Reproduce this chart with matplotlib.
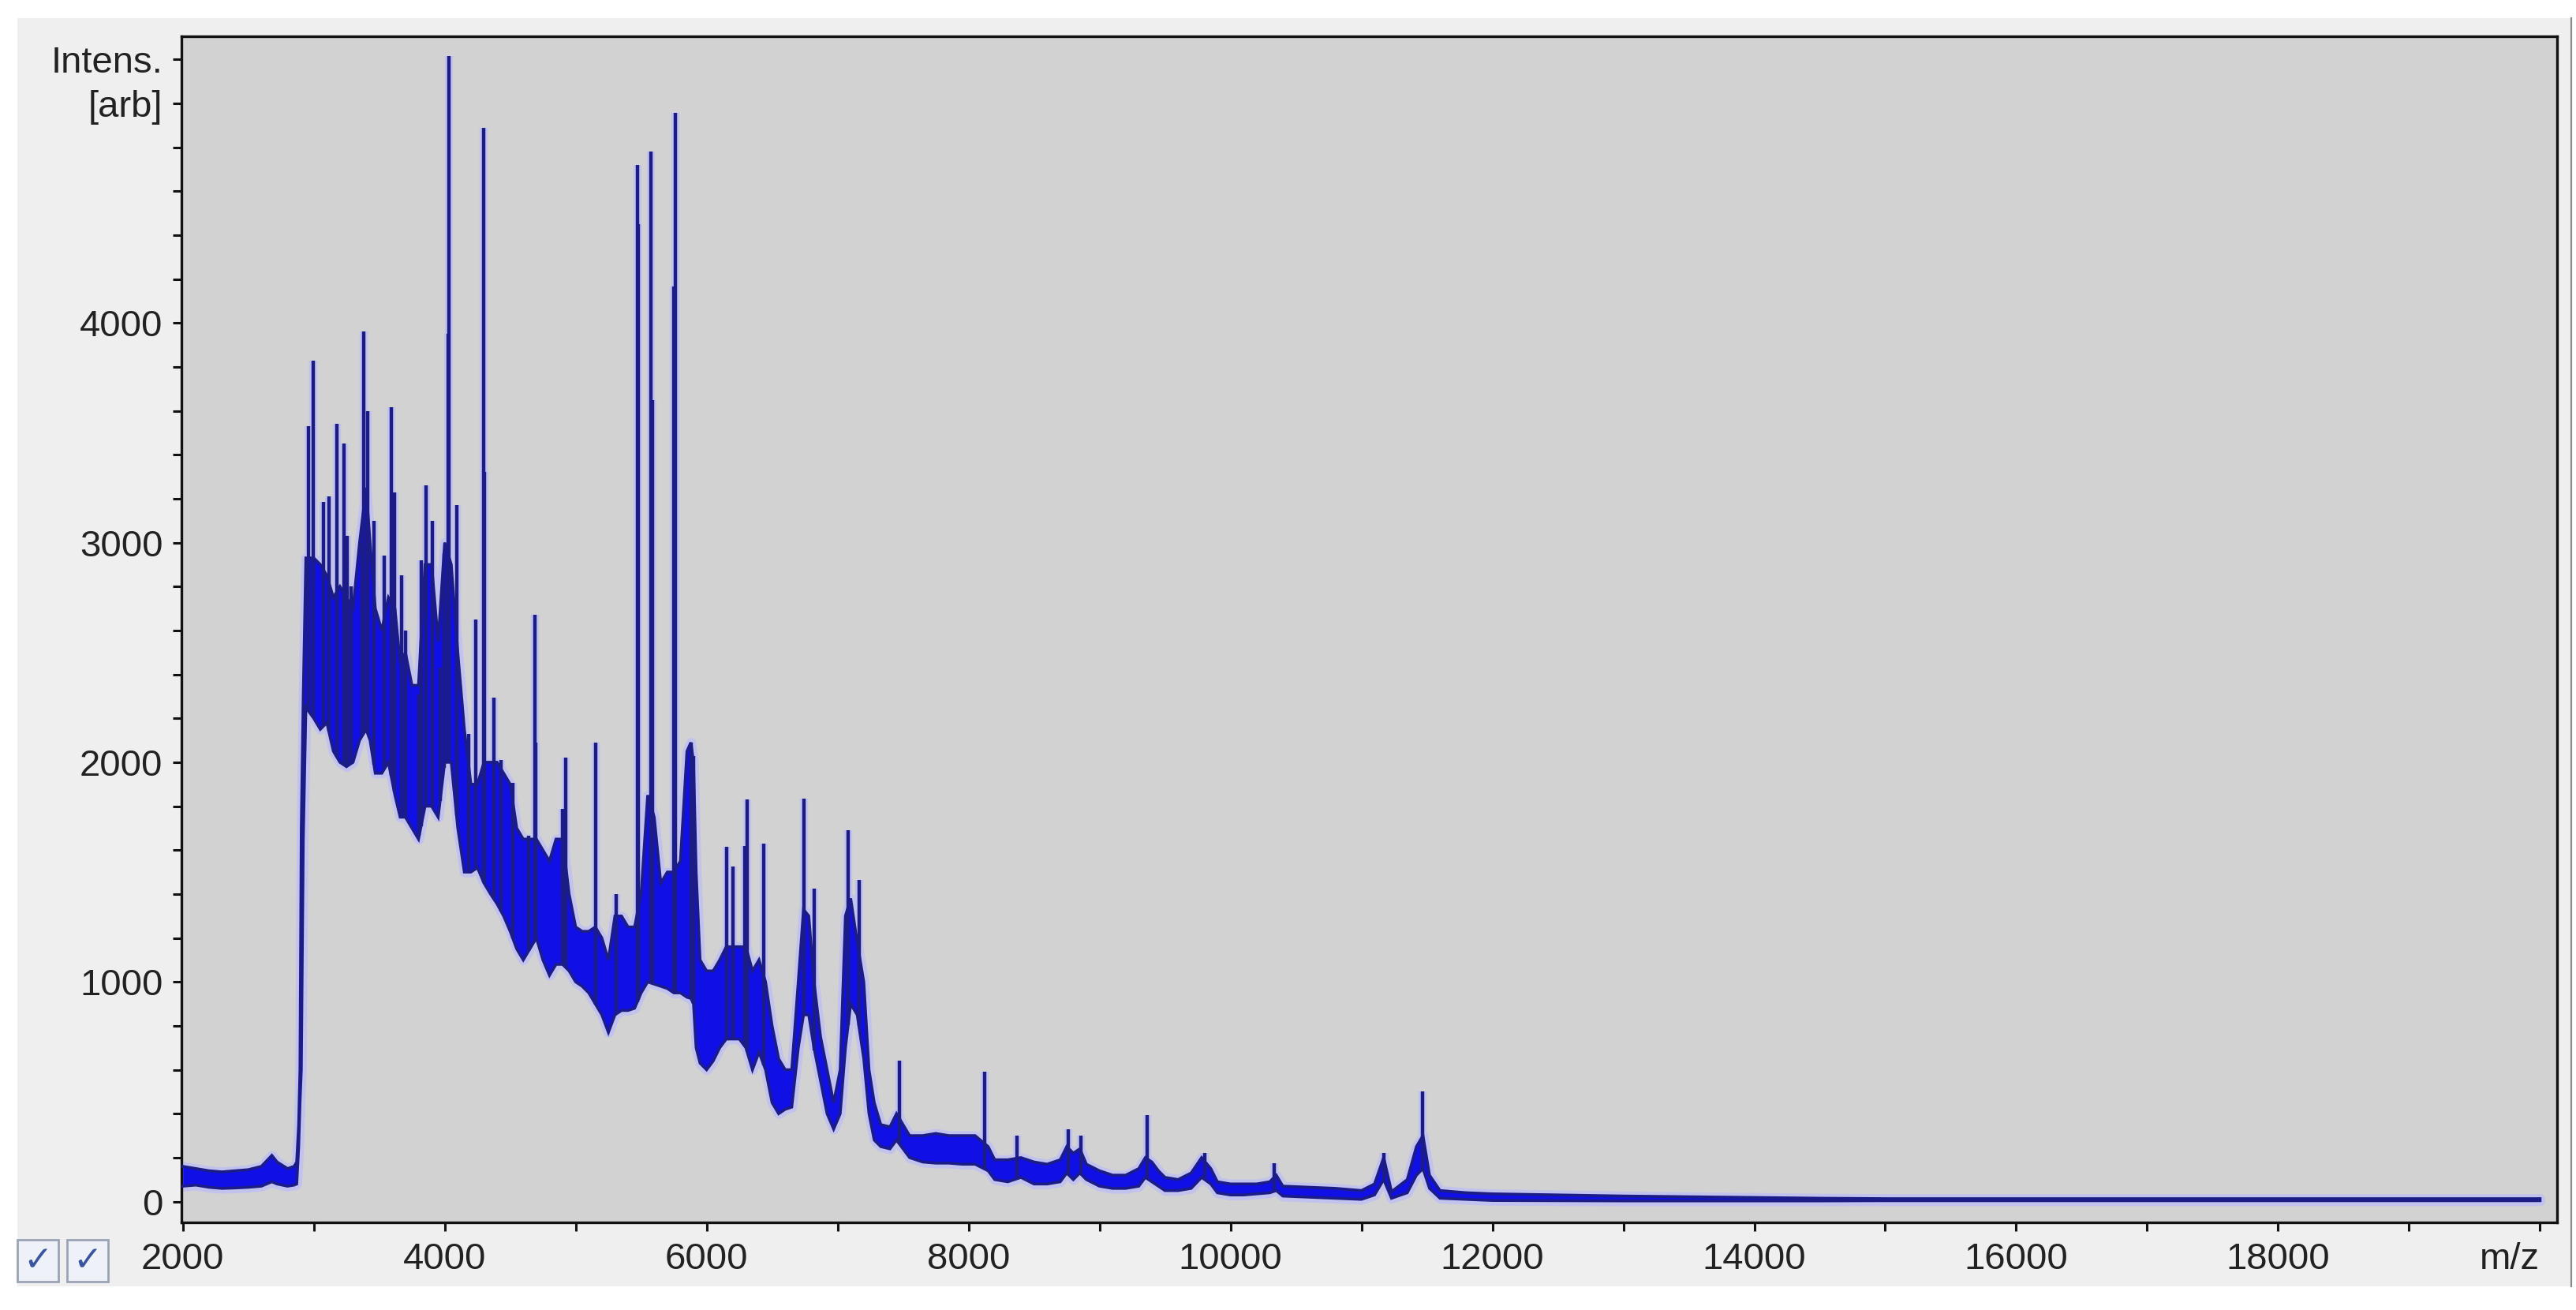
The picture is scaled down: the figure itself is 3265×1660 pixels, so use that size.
import numpy as np
import matplotlib
matplotlib.use("Agg")
import matplotlib.pyplot as plt
from matplotlib.patches import Rectangle
from matplotlib.lines import Line2D

# ---------------- data ----------------
# dense part of the trace: m/z, lower and upper envelope
band_mz = [2000, 2100, 2200, 2300, 2400, 2500, 2600, 2680, 2720, 2800, 2850, 2870,
           2885, 2895, 2905, 2920, 2940,
           3000, 3050, 3100, 3150, 3200, 3250, 3300, 3350, 3400, 3430, 3470, 3520,
           3570, 3620, 3660, 3700, 3750, 3800, 3850, 3900, 3950, 4000, 4050, 4100,
           4150, 4200, 4250, 4300, 4350, 4400, 4450, 4500, 4550, 4600, 4650, 4700,
           4750, 4800, 4850, 4900, 4950, 5000, 5050, 5100, 5150, 5200, 5250, 5300,
           5350, 5400, 5450, 5500, 5550, 5600, 5650, 5700, 5750, 5800, 5850, 5880,
           5900, 5920, 5950, 6000, 6050, 6100, 6150, 6200, 6250, 6300, 6350, 6400,
           6450, 6500, 6550, 6600, 6650, 6700, 6740, 6780, 6820, 6870, 6920, 6970,
           7020, 7060, 7100, 7150, 7200, 7240, 7280, 7330, 7400, 7450, 7500, 7550,
           7650, 7750, 7850, 7950, 8050, 8150, 8200, 8300, 8400, 8500, 8600, 8700,
           8750, 8800, 8850, 8900, 9000, 9100, 9200, 9300, 9350, 9400, 9450, 9500,
           9600, 9700, 9780, 9850, 9900, 10000, 10100, 10200, 10300, 10350, 10400,
           10600, 10800, 11000, 11100, 11170, 11230, 11350, 11420, 11470, 11520,
           11600, 11800, 12000, 13000, 14500, 15000, 20000]
band_lo = [70, 75, 65, 60, 62, 65, 70, 90, 80, 70, 75, 80,
           250, 450, 600, 1650, 2250,
           2200, 2150, 2180, 2050, 2000, 1980, 2000, 2100, 2150, 2100, 1950, 1950,
           2000, 1850, 1750, 1750, 1700, 1650, 1800, 1800, 1750, 2000, 2000, 1700,
           1500, 1500, 1520, 1450, 1400, 1355, 1300, 1230, 1150, 1100, 1150, 1200,
           1100, 1030, 1080, 1080, 1050, 1000, 980, 950, 900, 850, 770, 850,
           870, 870, 880, 950, 1000, 990, 980, 970, 950, 950, 930, 925,
           900, 700, 630, 600, 640, 700, 740, 740, 740, 700, 600, 680,
           600, 450, 400, 420, 430, 700, 850, 850, 700, 550, 400, 330,
           400, 700, 900, 850, 650, 400, 280, 250, 240, 280, 240, 200,
           180, 175, 175, 170, 170, 140, 100, 90, 110, 80, 80, 90,
           130, 100, 130, 100, 70, 60, 60, 70, 110, 90, 70, 50,
           50, 60, 110, 80, 40, 30, 30, 35, 40, 50, 25,
           20, 15, 10, 30, 100, 15, 40, 120, 150, 60,
           15, 10, 5, 3, 3, 4, 4]
band_hi = [160, 150, 140, 135, 140, 145, 160, 210, 180, 150, 160, 180,
           350, 600, 1700, 2300, 2930,
           2930, 2900, 2850, 2750, 2800, 2750, 2700, 3000, 3250, 3000, 2700, 2600,
           2750, 2700, 2450, 2500, 2350, 2350, 2900, 2900, 2550, 3000, 2900, 2500,
           2150, 1900, 1900, 2000, 2000, 2000, 1950, 1900, 1700, 1650, 1650, 1650,
           1600, 1550, 1650, 1650, 1400, 1250, 1230, 1230, 1250, 1200, 1100, 1300,
           1300, 1250, 1250, 1400, 1850, 1750, 1450, 1500, 1500, 1550, 2050, 2090,
           2000, 1500, 1100, 1050, 1050, 1100, 1160, 1160, 1160, 1160, 1050, 1100,
           1000, 800, 650, 600, 600, 1000, 1330, 1300, 1000, 750, 600, 450,
           600, 1300, 1380, 1180, 1000, 600, 450, 350, 340, 400, 350, 300,
           300, 310, 300, 300, 300, 250, 190, 190, 200, 180, 170, 190,
           250, 220, 240, 170, 140, 120, 120, 150, 200, 180, 140, 110,
           100, 130, 200, 150, 90, 80, 80, 80, 90, 120, 70,
           65, 60, 50, 80, 200, 45, 100, 250, 300, 120,
           50, 40, 35, 25, 15, 13, 13]
assert len(band_mz) == len(band_lo) == len(band_hi)

# sharp peaks: m/z and apex intensity
peak_mz = [2962, 2995, 3075, 3115, 3175, 3230, 3255, 3285, 3372, 3384, 3411, 3460,
           3540, 3590, 3615, 3670, 3700, 3805, 3820, 3856, 3905, 3965, 3995, 4028,
           4035, 4090, 4185, 4240, 4298, 4305, 4374, 4430, 4520, 4640, 4692, 4698,
           4900, 4926, 5155, 5311, 5470, 5478, 5577, 5585, 5752, 5760, 5881, 5900,
           6150, 6204, 6290, 6307, 6438, 6743, 6824, 7081, 7163, 7474, 8125, 8370,
           8760, 8856, 9366, 9805, 10333, 11171, 11467]
peak_top = [3530, 3830, 3185, 3210, 3540, 3450, 3030, 2800, 3000, 3960, 3600, 3100,
            2940, 3615, 3230, 2850, 2600, 2310, 2920, 3260, 3100, 2430, 2950, 3950,
            5215, 3170, 2130, 2650, 4890, 3320, 2295, 2010, 1907, 1667, 2670, 2090,
            1787, 2020, 2090, 1400, 4720, 4450, 4780, 3650, 4165, 4955, 2090, 2030,
            1615, 1525, 1620, 1830, 1630, 1835, 1425, 1690, 1465, 640, 590, 300,
            330, 300, 395, 220, 175, 220, 500]
assert len(peak_mz) == len(peak_top)

x_ticks = list(range(2000, 20001, 1000))
x_labels = {2000: "2000", 4000: "4000", 6000: "6000", 8000: "8000", 10000: "10000",
            12000: "12000", 14000: "14000", 16000: "16000", 18000: "18000", 20000: "m/z"}
y_ticks = list(range(0, 5201, 200))
y_labels = {0: "0", 1000: "1000", 2000: "2000", 3000: "3000", 4000: "4000",
            5000: "[arb]", 5200: "Intens."}

# ---------------- figure ----------------
W, H = 3266, 1660
DPI = 100
plt.rcParams['font.family'] = ['Liberation Sans', 'DejaVu Sans']
fig = plt.figure(figsize=(W / DPI, H / DPI), dpi=DPI, facecolor='white')

# light grey outer panel (behind the axes)
fig.patches.append(Rectangle((22 / W, 1 - 1630 / H), (3259 - 22) / W, (1630 - 23) / H,
                             transform=fig.transFigure, facecolor='#efefef',
                             edgecolor='none', zorder=-5))
fig.lines.append(Line2D([3259 / W, 3259 / W], [1 - 1630 / H, 1 - 23 / H],
                        transform=fig.transFigure, color='#8a8a8a', lw=1.6, zorder=-4))

ax = fig.add_axes([230 / W, 1 - 1549 / H, (3241 - 230) / W, (1549 - 46) / H])
ax.set_zorder(1)
ax.set_facecolor('#d2d2d2')
ax.set_xlim(1990, 20130)
ax.set_ylim(-95, 5305)

bx = np.array(band_mz, float)
blo = np.array(band_lo, float)
bhi = np.array(band_hi, float)
pmz = np.array(peak_mz, float)
ptop = np.array(peak_top, float)
pbase = np.interp(pmz, bx, blo)

halo = '#c2c2ee'
navy = '#1c1c86'
blue = '#1010e6'

# halo
ax.fill_between(bx, blo, bhi, color=halo, lw=9, edgecolor=halo, zorder=2)
ax.vlines(pmz, pbase, ptop, color=halo, lw=7.5, zorder=2)
# main trace
ax.fill_between(bx, blo, bhi, color=blue, lw=0, zorder=3)
ax.plot(bx, blo, color=navy, lw=2.6, zorder=4, solid_joinstyle='miter')
ax.plot(bx, bhi, color=navy, lw=2.6, zorder=4, solid_joinstyle='miter')
ax.vlines(pmz, pbase, ptop, color=navy, lw=3.2, zorder=5)

for s in ax.spines.values():
    s.set_linewidth(2.4)
    s.set_color('#111111')

ax.set_xticks(x_ticks)
ax.set_xticklabels([x_labels.get(t, "") for t in x_ticks])
ax.set_yticks(y_ticks)
ax.set_yticklabels([y_labels.get(t, "") for t in y_ticks])
ax.tick_params(axis='both', direction='out', length=8, width=2.2, color='#111111',
               labelsize=34, labelcolor='#222222')
ax.tick_params(axis='x', pad=10)
ax.tick_params(axis='y', pad=9)
# the "m/z" label sits to the left of its tick, inside the axes width
ax.get_xticklabels()[-1].set_horizontalalignment('right')

# check boxes bottom-left
for x0 in (22, 85):
    fig.patches.append(Rectangle((x0 / W, 1 - 1624 / H), 52 / W, 53 / H,
                                 transform=fig.transFigure, facecolor='#eef1f7',
                                 edgecolor='#9aa3b5', lw=2.0, zorder=2))
    fig.text((x0 + 26) / W, 1 - 1598 / H, "\u2713", ha='center', va='center',
             fontsize=32, color='#3a55a0', family='DejaVu Sans', fontweight='bold')

fig.savefig("out.png", dpi=DPI, facecolor='white')
